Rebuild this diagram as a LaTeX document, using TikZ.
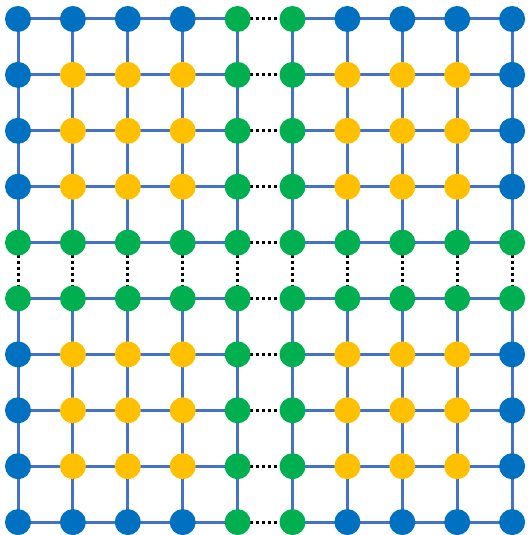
\documentclass[tikz,border=0pt]{standalone}
\definecolor{nblue}{HTML}{0070C0}
\definecolor{nyellow}{HTML}{FFC000}
\definecolor{ngreen}{HTML}{00B050}
\definecolor{eblue}{HTML}{4472C4}
\begin{document}
\begin{tikzpicture}[x=1pt,y=-1pt,
  dot/.style={circle,minimum size=26pt,inner sep=0pt},
  bdot/.style={dot,fill=nblue},
  ydot/.style={dot,fill=nyellow},
  gdot/.style={dot,fill=ngreen},
  edge/.style={eblue,line width=3pt},
  gap/.style={black,line width=3pt,dash pattern=on 3pt off 3pt}]
\useasboundingbox (0,0) rectangle (527,535);
\foreach \i in {0,...,9}{
  \foreach \j in {0,...,9}{
    \pgfmathsetmacro{\xx}{18+\i*54.9}
    \pgfmathsetmacro{\yy}{19+\j*55.9}
    \coordinate (c-\i-\j) at (\xx,\yy);
  }
}
% edges
\foreach \j in {0,...,9}{
  \foreach \i [evaluate=\i as \k using int(\i+1)] in {0,...,8}{
    \ifnum\i=4
      \draw[gap] (c-\i-\j) -- (c-\k-\j);
    \else
      \draw[edge] (c-\i-\j) -- (c-\k-\j);
    \fi
  }
}
\foreach \i in {0,...,9}{
  \foreach \j [evaluate=\j as \k using int(\j+1)] in {0,...,8}{
    \ifnum\j=4
      \draw[gap] (c-\i-\j) -- (c-\i-\k);
    \else
      \draw[edge] (c-\i-\j) -- (c-\i-\k);
    \fi
  }
}
% nodes
\foreach \i in {0,...,9}{
  \foreach \j in {0,...,9}{
    \def\st{ydot}
    \ifnum\i=0 \def\st{bdot}\fi
    \ifnum\i=9 \def\st{bdot}\fi
    \ifnum\j=0 \def\st{bdot}\fi
    \ifnum\j=9 \def\st{bdot}\fi
    \ifnum\i=4 \def\st{gdot}\fi
    \ifnum\i=5 \def\st{gdot}\fi
    \ifnum\j=4 \def\st{gdot}\fi
    \ifnum\j=5 \def\st{gdot}\fi
    \node[\st] (n-\i-\j) at (c-\i-\j) {};
  }
}
\end{tikzpicture}
\end{document}
